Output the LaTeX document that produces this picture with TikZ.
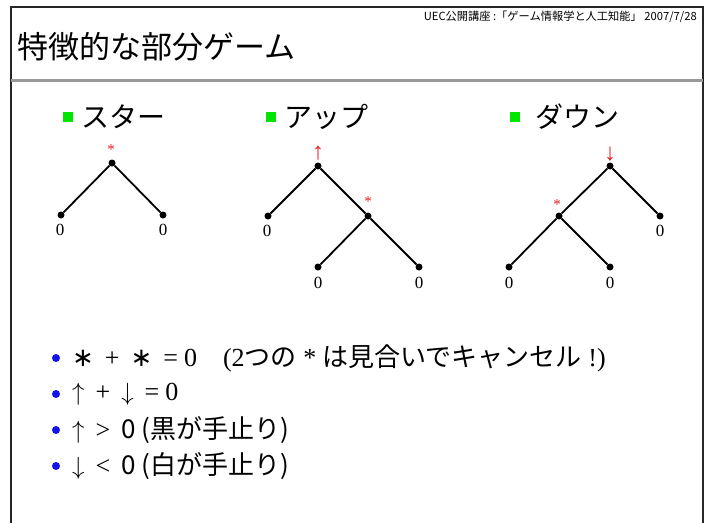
\documentclass[tikz,border=0pt]{standalone}
\usepackage{fontspec}
\newfontfamily\jp{Noto Sans CJK JP}
\newfontfamily\tms{Liberation Serif}
\newfontfamily\djv{DejaVu Sans}
\usetikzlibrary{calc}
\definecolor{bulblue}{RGB}{20,20,230}
\definecolor{sqgreen}{RGB}{0,230,0}
\definecolor{lblred}{RGB}{230,30,30}
\newcommand{\gp}{\hspace{11pt}}
\tikzset{
  frameline/.style={line width=1.5pt, draw=black!85},
  tdot/.style={circle, fill=black, inner sep=0pt, minimum size=7pt},
  tedge/.style={line width=1.8pt},
  zerolbl/.style={font=\tms\fontsize{17}{19}\selectfont, inner sep=0pt},
  redlbl/.style={font=\tms\fontsize{15}{17}\selectfont, text=lblred, inner sep=0pt},
  redarr/.style={font=\tms\fontsize{24}{26}\selectfont, text=lblred, inner sep=0pt},
  headtxt/.style={font=\jp\fontsize{28}{32}\selectfont, anchor=west, inner sep=0pt},
  gsq/.style={fill=sqgreen, inner sep=0pt, minimum size=10pt},
  bdot/.style={circle, fill=bulblue, inner sep=0pt, minimum size=8pt},
  bultxt/.style={font=\tms\fontsize{26}{30}\selectfont, anchor=west, inner sep=0pt},
}
\begin{document}
\begin{tikzpicture}[x=1pt,y=-1pt]
\useasboundingbox (0,0) rectangle (714,522);
\fill[white] (0,0) rectangle (714,522);
% frame
\draw[frameline] (11,530) -- (11,7) -- (703,7) -- (703,530);
\draw[line width=3pt, draw=gray!80] (11,80) -- (703,80);
% header
\node[anchor=east, inner sep=0pt] (hdr) at (697,17)
  {\resizebox{273pt}{!}{\jp\fontsize{12}{14}\selectfont UEC公開講座 :「ゲーム情報学と人工知能」 2007/7/28}};
\node[anchor=west, inner sep=0pt, font=\jp\fontsize{31}{34}\selectfont] (title) at (17,47) {特徴的な部分ゲーム};
% headings
\node[gsq] (sq1) at (68,117) {};
\node[headtxt] (h1) at (81,117) {スター};
\node[gsq] (sq2) at (271,117) {};
\node[headtxt] (h2) at (284,117) {アップ};
\node[gsq] (sq3) at (515,117) {};
\node[headtxt] (h3) at (535,117) {ダウン};
% star tree
\node[tdot] (sr) at (112,163) {};
\node[tdot] (sl1) at (61,215) {};
\node[tdot] (sl2) at (163,215) {};
\draw[tedge] (sl1) -- (sr) -- (sl2);
\node[redlbl] (sst) at (111,150) {*};
\node[zerolbl] (sz1) at (60,230) {0};
\node[zerolbl] (sz2) at (163,230) {0};
% up tree
\node[tdot] (ur) at (318,166) {};
\node[tdot] (ul) at (268,216) {};
\node[tdot] (um) at (368,216) {};
\node[tdot] (uml) at (318,267) {};
\node[tdot] (umr) at (419,267) {};
\draw[tedge] (ul) -- (ur) -- (um) -- (umr);
\draw[tedge] (um) -- (uml);
\node[redarr] (uarr) at (318,153) {↑};
\node[redlbl] (ust) at (368,202) {*};
\node[zerolbl] (uz1) at (267,231) {0};
\node[zerolbl] (uz2) at (318,283) {0};
\node[zerolbl] (uz3) at (419,283) {0};
% down tree
\node[tdot] (dr) at (610,166) {};
\node[tdot] (drl) at (660,216) {};
\node[tdot] (dm) at (559,216) {};
\node[tdot] (dml) at (509,267) {};
\node[tdot] (dmr) at (610,267) {};
\draw[tedge] (drl) -- (dr) -- (dm) -- (dml);
\draw[tedge] (dm) -- (dmr);
\node[redarr] (darr) at (610,154) {↓};
\node[redlbl] (dst) at (557,205) {*};
\node[zerolbl] (dz1) at (660,231) {0};
\node[zerolbl] (dz2) at (509,283) {0};
\node[zerolbl] (dz3) at (610,283) {0};
% bullets
\node[bdot] (b1) at (56,358) {};
\node[bultxt] (t1) at (72,358) {{\djv ∗}\gp+\gp{\djv ∗}\gp=\hspace{6pt}0\hspace{26pt}(2{\jp つの} * {\jp は見合いでキャンセル} !)};
\node[bdot] (b2) at (56,394) {};
\node[bultxt] (t2) at (72,394) {$\uparrow$\gp+\gp$\downarrow$\gp=\hspace{6pt}0};
\node[bdot] (b3) at (56,430) {};
\node[bultxt] (t3) at (72,430) {$\uparrow$\gp>\gp{\jp 0 (黒が手止り)}};
\node[bdot] (b4) at (56,466) {};
\node[bultxt] (t4) at (72,466) {$\downarrow$\gp<\gp{\jp 0 (白が手止り)}};
\end{tikzpicture}
\end{document}
